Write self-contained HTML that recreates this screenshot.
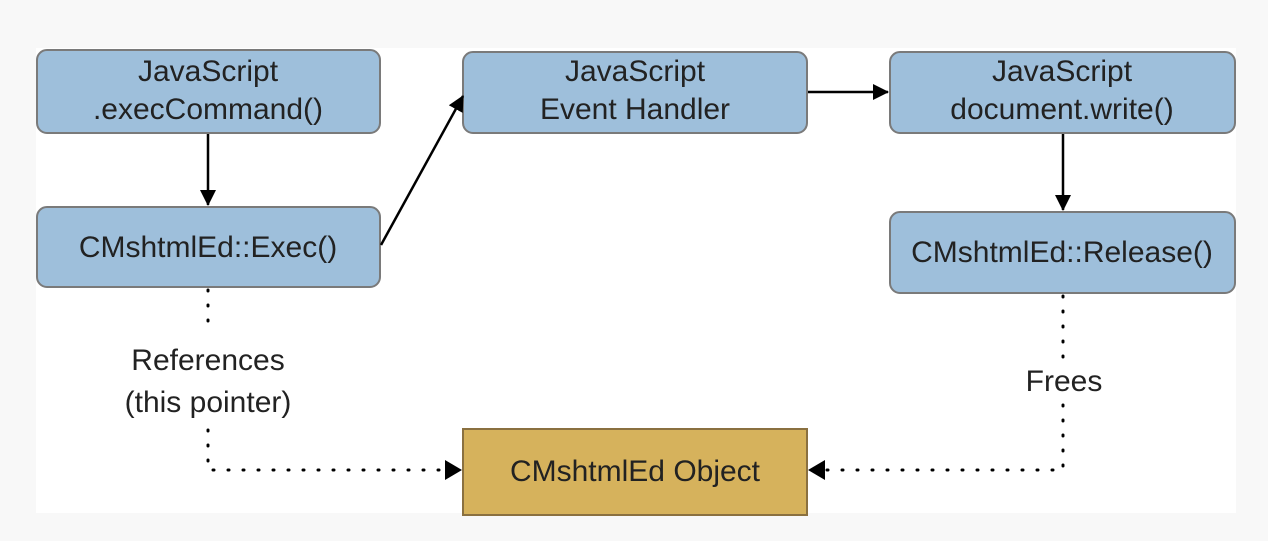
<!DOCTYPE html>
<html><head><style>
body{margin:0;background:#f8f8f8;}
</style></head><body>
<svg width="1268" height="536" xmlns="http://www.w3.org/2000/svg" font-family="Liberation Sans, sans-serif" font-size="30" fill="#222">
<defs><marker id="b" markerWidth="16" markerHeight="16" refX="15" refY="8" orient="auto" markerUnits="userSpaceOnUse"><path d="M0,0L16,8L0,16z" fill="#000"/></marker></defs>
<rect x="36" y="48" width="1200" height="465" fill="#fff"/>
<g fill="#9ebfdb" stroke="#7a7a7a" stroke-width="2">
<rect x="37" y="50" width="343" height="83" rx="10"/>
<rect x="37" y="207" width="343" height="80" rx="10"/>
<rect x="463" y="52" width="344" height="81" rx="10"/>
<rect x="890" y="52" width="345" height="81" rx="10"/>
<rect x="890" y="212" width="345" height="81" rx="10"/>
</g>
<rect x="463" y="429" width="344" height="86" fill="#d6b25c" stroke="#8a7040" stroke-width="2"/>
<g stroke="#000" stroke-width="2.5" fill="none">
<line x1="208" y1="134" x2="208" y2="205" marker-end="url(#b)"/>
<line x1="381" y1="245" x2="463" y2="96" marker-end="url(#b)"/>
<line x1="808" y1="92" x2="888" y2="92" marker-end="url(#b)"/>
<line x1="1063" y1="134" x2="1063" y2="210" marker-end="url(#b)"/>
</g>
<g stroke="#000" stroke-width="3" fill="none" stroke-dasharray="1 14" stroke-linecap="round">
<polyline points="208,290 208,335"/>
<polyline points="208,430 208,470 448,470"/>
<polyline points="1063,296 1063,360"/>
<polyline points="1063,405 1063,470 825,470"/>
</g>
<path d="M445,460L462,470L445,480z" fill="#000"/>
<path d="M825,460L808,470L825,480z" fill="#000"/>
<g text-anchor="middle">
<text x="208" y="81">JavaScript</text><text x="208" y="119">.execCommand()</text>
<text x="208" y="257">CMshtmlEd::Exec()</text>
<text x="635" y="81">JavaScript</text><text x="635" y="119">Event Handler</text>
<text x="1062" y="81">JavaScript</text><text x="1062" y="119">document.write()</text>
<text x="1062" y="262">CMshtmlEd::Release()</text>
<text x="635" y="481">CMshtmlEd Object</text>
<text x="208" y="370">References</text><text x="208" y="412">(this pointer)</text>
<text x="1064" y="391">Frees</text>
</g>
</svg>
</body></html>
